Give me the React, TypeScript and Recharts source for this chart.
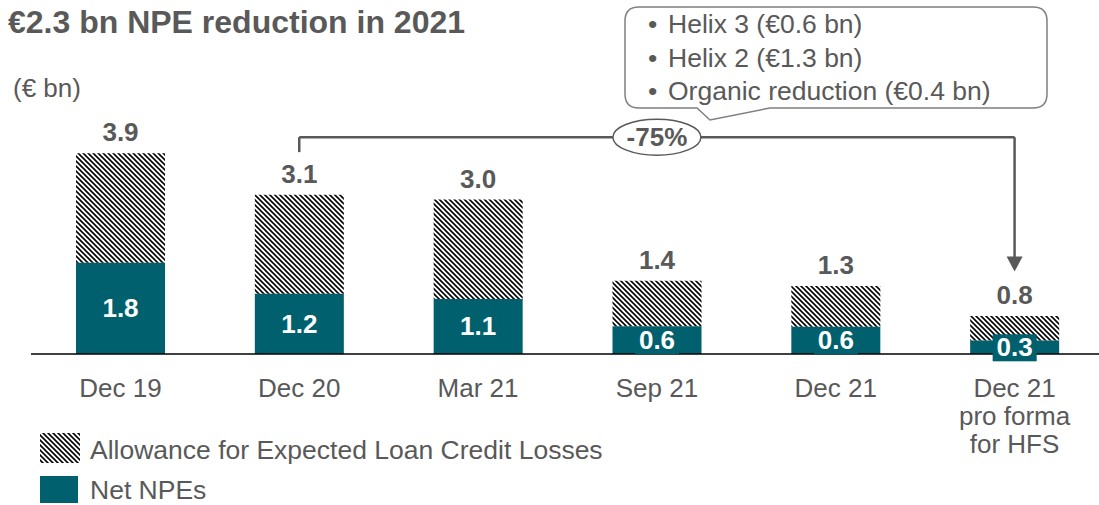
import { BarChart, Bar, XAxis, YAxis, LabelList, ReferenceLine, ReferenceDot } from 'recharts';

const categories = ['Dec 19', 'Dec 20', 'Mar 21', 'Sep 21', 'Dec 21', 'Dec 21\npro forma\nfor HFS'];
const netNpes = [1.77, 1.17, 1.07, 0.54, 0.53, 0.26];
const allowance = [2.13, 1.92, 1.93, 0.88, 0.79, 0.48];
const totalLabels = ['3.9', '3.1', '3.0', '1.4', '1.3', '0.8'];
const netLabels = ['1.8', '1.2', '1.1', '0.6', '0.6', '0.3'];
const calloutLines = ['Helix 3 (€0.6 bn)', 'Helix 2 (€1.3 bn)', 'Organic reduction (€0.4 bn)'];
const bracketLevel = 4.21;
const bracketFrom = 3.92;
const arrowTip = 1.6;

const chartData = categories.map((name, i) => ({
  name,
  net: netNpes[i],
  allowance: allowance[i],
  totalLabel: totalLabels[i],
  netLabel: netLabels[i],
}));

const TEAL = '#01606E';
const GREY = '#595959';
const FONT = '"Liberation Sans", Arial, sans-serif';

const CategoryTick = (props: any) => {
  const { x, y, payload } = props;
  const lines = String(payload.value).split('\n');
  return (
    <text x={x} y={y + 41} textAnchor="middle" fill={GREY} fontSize={26} fontFamily={FONT}>
      {lines.map((l, i) => (
        <tspan key={i} x={x} dy={i === 0 ? 0 : 28}>{l}</tspan>
      ))}
    </text>
  );
};

const TotalLabel = (props: any) => {
  const { x, y, width, value } = props;
  return (
    <text x={x + width / 2} y={y - 12} textAnchor="middle" fill={GREY} fontSize={26} fontWeight="bold" fontFamily={FONT}>
      {value}
    </text>
  );
};

const NetLabel = (props: any) => {
  const { x, y, width, height, value } = props;
  const cx = x + width / 2;
  const cy = y + height / 2;
  return (
    <g>
      <rect x={cx - 22} y={cy - 13} width={44} height={27} fill={TEAL} />
      <text x={cx} y={cy + 9} textAnchor="middle" fill="#fff" fontSize={26} fontWeight="bold" fontFamily={FONT}>
        {value}
      </text>
    </g>
  );
};

const Badge = (props: any) => {
  const { cx, cy } = props;
  return (
    <g>
      <ellipse cx={cx} cy={cy} rx={44} ry={18} fill="#fff" stroke={GREY} strokeWidth={1.5} />
      <text x={cx} y={cy + 9} textAnchor="middle" fill={GREY} fontSize={26} fontWeight="bold" fontFamily={FONT}>
        -75%
      </text>
    </g>
  );
};

const ArrowHead = (props: any) => {
  const { cx, cy } = props;
  return <path d={`M${cx - 8},${cy - 15} L${cx + 8},${cy - 15} L${cx},${cy} Z`} fill={GREY} />;
};

const App = () => {
  return (
    <div style={{ position: 'absolute', left: 0, top: 0, width: 1099, height: 505, overflow: 'hidden', background: '#fff', fontFamily: FONT }}>
      <svg width={1099} height={505} style={{ position: 'absolute', left: 0, top: 0 }}>
        <defs>
          <pattern id="hatchLegend" patternUnits="userSpaceOnUse" width={5} height={5}>
            <path d="M-1,-1 L6,6 M-1,4 L1,6 M4,-1 L6,1" stroke="#000" strokeWidth={1.6} />
          </pattern>
        </defs>
        <text x={8} y={33} fill={GREY} fontSize={32} fontWeight="bold" fontFamily={FONT}>€2.3 bn NPE reduction in 2021</text>
        <text x={13} y={97} fill={GREY} fontSize={26} fontFamily={FONT}>(€ bn)</text>
        <path
          d="M639,7 L1033,7 Q1047,7 1047,21 L1047,94 Q1047,108 1033,108 L770,108 L710,120 L697,108 L639,108 Q625,108 625,94 L625,21 Q625,7 639,7 Z"
          fill="#fff"
          stroke="#7f7f7f"
          strokeWidth={1.5}
        />
        {calloutLines.map((l, i) => (
          <text key={i} x={648} y={33 + i * 33.5} fill={GREY} fontSize={26.5} fontFamily={FONT}>
            <tspan>•</tspan>
            <tspan x={668}>{l}</tspan>
          </text>
        ))}
        <rect x={40} y={433} width={40} height={30} fill="url(#hatchLegend)" />
        <text x={90} y={459} fill={GREY} fontSize={26.5} fontFamily={FONT}>Allowance for Expected Loan Credit Losses</text>
        <rect x={40} y={476} width={38} height={27} fill={TEAL} />
        <text x={90} y={499} fill={GREY} fontSize={26.5} fontFamily={FONT}>Net NPEs</text>
      </svg>
      <div style={{ position: 'absolute', left: 0, top: 0 }}>
        <BarChart width={1110} height={505} data={chartData} margin={{ top: 96.5, right: 6, bottom: 51, left: 31 }} barSize={89}>
          <defs>
            <pattern id="hatch" patternUnits="userSpaceOnUse" width={5} height={5}>
              <path d="M-1,-1 L6,6 M-1,4 L1,6 M4,-1 L6,1" stroke="#000" strokeWidth={1.6} />
            </pattern>
          </defs>
          <XAxis
            dataKey="name"
            height={100}
            axisLine={{ stroke: '#000', strokeWidth: 1.5 }}
            tickLine={false}
            tickSize={0}
            tick={<CategoryTick />}
            interval={0}
          />
          <YAxis hide domain={[0, 5]} />
          <Bar dataKey="net" stackId="a" fill={TEAL} isAnimationActive={false}>
            <LabelList dataKey="netLabel" content={<NetLabel />} />
          </Bar>
          <Bar dataKey="allowance" stackId="a" fill="url(#hatch)" isAnimationActive={false}>
            <LabelList dataKey="totalLabel" content={<TotalLabel />} />
          </Bar>
          <ReferenceLine
            segment={[{ x: categories[1], y: bracketFrom }, { x: categories[1], y: bracketLevel }]}
            stroke={GREY}
            strokeWidth={2.5}
          />
          <ReferenceLine
            segment={[{ x: categories[1], y: bracketLevel }, { x: categories[5], y: bracketLevel }]}
            stroke={GREY}
            strokeWidth={2.5}
          />
          <ReferenceLine
            segment={[{ x: categories[5], y: bracketLevel }, { x: categories[5], y: arrowTip + 0.2 }]}
            stroke={GREY}
            strokeWidth={2.5}
          />
          <ReferenceDot x={categories[5]} y={arrowTip} shape={<ArrowHead />} />
          <ReferenceDot x={categories[3]} y={bracketLevel} shape={<Badge />} />
        </BarChart>
      </div>
    </div>
  );
};

export default App;
